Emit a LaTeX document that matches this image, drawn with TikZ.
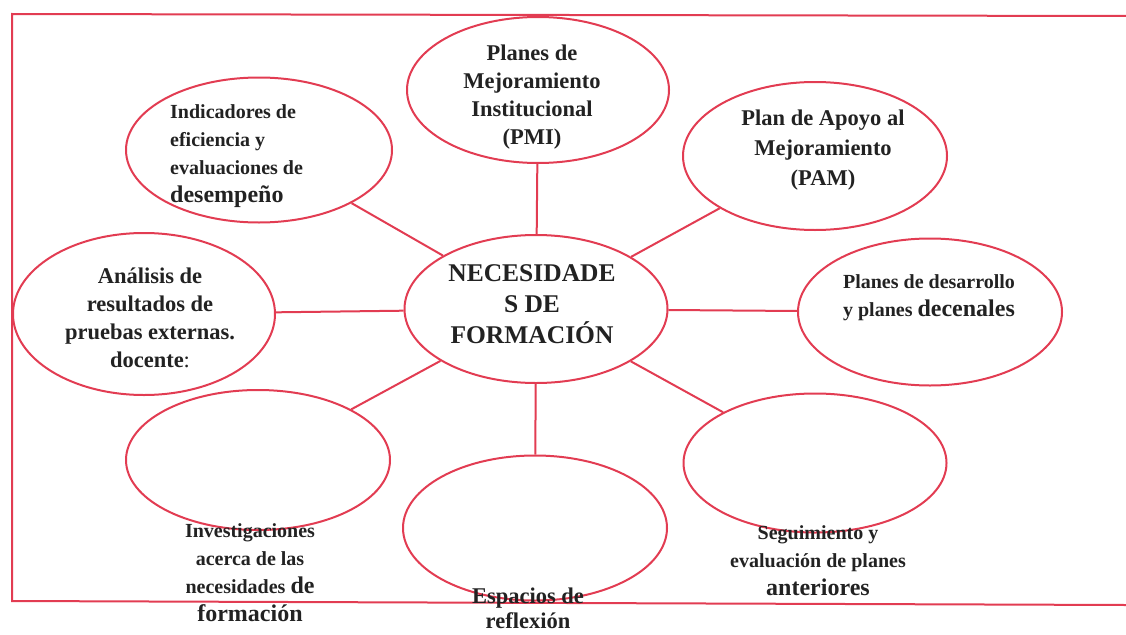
\documentclass[tikz,border=0pt]{standalone}
\usepackage{fontspec}
\setmainfont{Liberation Serif}
\usetikzlibrary{shapes.geometric}
\definecolor{framered}{RGB}{226,60,82}
\definecolor{ink}{RGB}{34,34,34}
\begin{document}
\begin{tikzpicture}[x=1pt,y=-1pt,
  bub/.style={ellipse,draw=framered,line width=2pt,inner sep=0pt},
  link/.style={draw=framered,line width=2pt},
  txt/.style={text=ink,font=\bfseries\fontsize{20}{28}\selectfont,align=center,inner sep=0pt},
  txtl/.style={txt,font=\bfseries\fontsize{22.5}{28}\selectfont}]
\useasboundingbox (0,0) rectangle (1126,634);
% frame (right side lies outside the picture)
\coordinate (ftl) at (12,14);
\coordinate (ftr) at (1126,16);
\coordinate (fbl) at (12,601);
\coordinate (fbr) at (1126,605);
\draw[link] (ftr) -- (ftl) -- (fbl) -- (fbr);
% bubbles
\node[bub,minimum width=262pt,minimum height=146pt] (pmi) at (538,90) {};
\node[bub,minimum width=264pt,minimum height=148pt] (pam) at (815,156) {};
\node[bub,minimum width=266pt,minimum height=145pt] (ind) at (259,150) {};
\node[bub,minimum width=262pt,minimum height=162pt] (ana) at (144,314) {};
\node[bub,minimum width=263pt,minimum height=148pt] (cen) at (536,309) {};
\node[bub,minimum width=264pt,minimum height=147pt] (des) at (930,312) {};
\node[bub,minimum width=264pt,minimum height=140pt] (inv) at (258,460) {};
\node[bub,minimum width=264pt,minimum height=145pt] (esp) at (535,528) {};
\node[bub,minimum width=263pt,minimum height=139pt] (seg) at (815,463) {};
% connectors
\foreach \n in {pmi,pam,ind,ana,des,inv,esp,seg}
  \draw[link] (cen) -- (\n);
% texts
\node[txtl] (tpmi) at (532,97) {Planes de\\Mejoramiento\\Institucional\\(PMI)};
\node[txtl,font=\bfseries\fontsize{22.5}{30}\selectfont] (tpam) at (823,150) {Plan de Apoyo al\\Mejoramiento\\(PAM)};
\node[txt,align=left,anchor=west] (tind) at (170,156) {Indicadores de\\eficiencia y\\evaluaciones de\\{\fontsize{24}{28}\selectfont desempeño}};
\node[txtl] (tana) at (150,318) {Análisis de\\resultados de\\pruebas externas.\\docente{\mdseries :}};
\node[txt,font=\bfseries\fontsize{25.5}{31}\selectfont] (tcen) at (532,304) {NECESIDADE\\S DE\\FORMACIÓN};
\node[txt] (tdes) at (929,298) {Planes de desarrollo\\y planes {\fontsize{24}{28}\selectfont decenales}};
\node[txt] (tinv) at (250,573) {Investigaciones\\acerca de las\\necesidades {\fontsize{24}{28}\selectfont de}\\{\fontsize{24}{28}\selectfont formación}};
\node[txtl,font=\bfseries\fontsize{22.5}{25}\selectfont] (tesp) at (528,608) {Espacios de\\reflexión};
\node[txt] (tseg) at (818,561) {Seguimiento y\\evaluación de planes\\{\fontsize{24}{28}\selectfont anteriores}};
\end{tikzpicture}
\end{document}
